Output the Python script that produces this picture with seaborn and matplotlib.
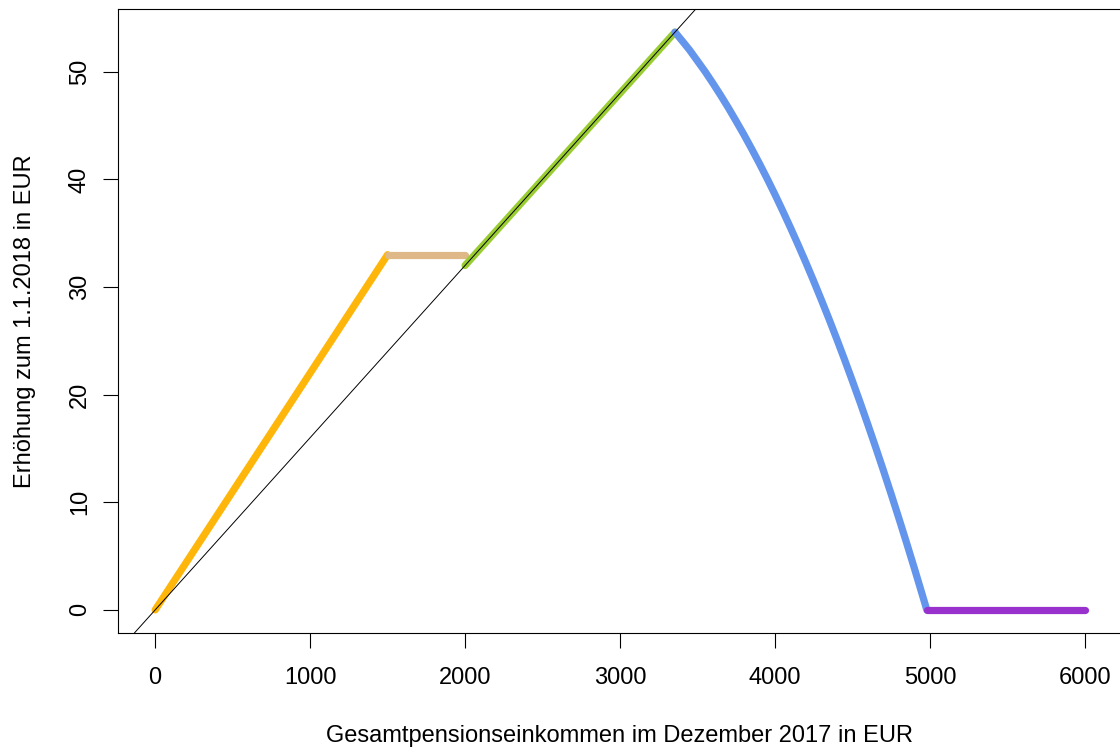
import numpy as np
import pandas as pd
import matplotlib.pyplot as plt
import seaborn as sns

# Werte
x_orange = [0, 1500]
y_orange = [0, 33.0]
x_tan = [1500, 2000]
y_tan = [33.0, 33.0]
x_green = [2000, 3355]
y_green = [32.0, 53.68]
x_blue = [3355, 3400, 3450, 3500, 3550, 3600, 3650, 3700, 3750, 3800, 3850,
          3900, 3950, 4000, 4050, 4100, 4150, 4200, 4250, 4300, 4350, 4400,
          4450, 4500, 4550, 4600, 4650, 4700, 4750, 4800, 4850, 4900, 4950, 4980]
y_blue = [53.68, 52.89, 52.0, 51.0, 50.0, 48.92, 47.8, 46.63, 45.4, 44.15, 42.83,
          41.47, 40.06, 38.6, 37.08, 35.52, 33.91, 32.26, 30.55, 28.79, 26.99, 25.13,
          23.23, 21.27, 19.27, 17.21, 15.11, 12.96, 10.76, 8.51, 6.21, 3.86, 1.46, 0.0]
x_purple = [4980, 6000]
y_purple = [0.0, 0.0]
ref_slope = 0.016  # Referenzgerade 1.6 %

segmente = ['a', 'b', 'c', 'd', 'e']
farben = ['#FFB60A', '#DEB887', '#9ACD32', '#6495ED', '#9932CC']

xs = [x_orange, x_tan, x_green, x_blue, x_purple]
ys = [y_orange, y_tan, y_green, y_blue, y_purple]
df = pd.concat([pd.DataFrame({'x': x, 'y': y, 'seg': s})
                for x, y, s in zip(xs, ys, segmente)], ignore_index=True)

sns.set_style('white')
plt.rcParams['font.family'] = ['Liberation Sans', 'DejaVu Sans']
plt.rcParams['text.color'] = 'black'
plt.rcParams['axes.labelcolor'] = 'black'

fig = plt.figure(figsize=(11.2, 7.49), dpi=100)
ax = fig.add_axes([118/1120, (749-633)/749, (1122-118)/1120, (633-9)/749])

sns.lineplot(data=df, x='x', y='y', hue='seg', palette=dict(zip(segmente, farben)),
             estimator=None, sort=False, lw=5.2, legend=False, ax=ax,
             solid_capstyle='round')
ax.axline((0, 0), slope=ref_slope, color='black', lw=0.7, zorder=5)

ax.set_xlim(-240, 6240)
ax.set_ylim(-2.147, 55.83)
ax.set_xticks([0, 1000, 2000, 3000, 4000, 5000, 6000])
ax.set_yticks([0, 10, 20, 30, 40, 50])
ax.tick_params(axis='both', direction='out', length=10.5, width=0.8, labelsize=17,
               colors='black', left=True, bottom=True)
ax.tick_params(axis='x', pad=14)
ax.tick_params(axis='y', pad=9)
plt.setp(ax.get_yticklabels(), rotation=90, va='center')
for sp in ax.spines.values():
    sp.set_color('black')
    sp.set_linewidth(0.8)

ax.set_xlabel('Gesamtpensionseinkommen im Dezember 2017 in EUR', fontsize=17,
              va='baseline', color='black')
ax.xaxis.set_label_coords(0.5, (633 - 742) / 624)
ax.set_ylabel('Erhöhung zum 1.1.2018 in EUR', fontsize=17, va='baseline', color='black')
ax.yaxis.set_label_coords((31.5 - 118) / 1004, 0.5)

fig.savefig('out.png', dpi=100)
